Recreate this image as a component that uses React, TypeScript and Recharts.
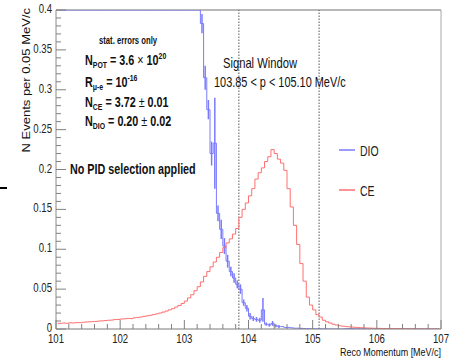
import React from "react";
import { LineChart, Line, XAxis, YAxis, ReferenceLine, ErrorBar, Legend } from "recharts";

// histogram binning (0.05 MeV/c bins from 101 to 107)
const binStart = 101;
const binWidth = 0.05;

// CE histogram, one value per bin
const ceValues = [
  0.0070, 0.0072, 0.0075, 0.0072, 0.0078, 0.0076, 0.0080, 0.0079, 0.0084, 0.0088,
  0.0090, 0.0093, 0.0095, 0.0100, 0.0102, 0.0106, 0.0110, 0.0112, 0.0118, 0.0120,
  0.0125, 0.0128, 0.0133, 0.0130, 0.0140, 0.0145, 0.0150, 0.0158, 0.0165, 0.0172,
  0.0180, 0.0190, 0.0200, 0.0212, 0.0225, 0.0240, 0.0255, 0.0275, 0.0295, 0.0320,
  0.0350, 0.0390, 0.0430, 0.0480, 0.0530, 0.0590, 0.0660, 0.0720, 0.0780, 0.0840,
  0.0900, 0.0960, 0.1020, 0.1080, 0.1130, 0.1190, 0.1260, 0.1400, 0.1500, 0.1580,
  0.1670, 0.1760, 0.1880, 0.1960, 0.2020, 0.2100, 0.2160, 0.2250, 0.2200, 0.2130,
  0.2080, 0.1990, 0.1760, 0.1530, 0.1300, 0.1060, 0.0820, 0.0600, 0.0400, 0.0300,
  0.0240, 0.0180, 0.0150, 0.0110, 0.0090, 0.0075, 0.0060, 0.0050, 0.0040, 0.0035,
  0.0030, 0.0027, 0.0024, 0.0020, 0.0018, 0.0015, 0.0013, 0.0012, 0.0010, 0.0009,
  0.0008, 0.0007, 0.0006, 0.0006, 0.0005, 0.0004, 0.0004, 0.0003, 0.0003, 0.0003,
  0.0002, 0.0002, 0.0002, 0.0001, 0.0001, 0.0001, 0.0001, 0.0001, 0.0001, 0.0001,
];

// DIO histogram (bins below ~103.2 run off the top of the frame)
const dioValues = [
  21.5, 19.8, 18.3, 16.9, 15.5, 14.2, 13.1, 12.0, 11.0, 10.1,
  9.2, 8.4, 7.7, 7.0, 6.4, 5.8, 5.3, 4.8, 4.3, 3.9,
  3.5, 3.2, 2.9, 2.6, 2.3, 2.1, 1.9, 1.7, 1.5, 1.35,
  1.2, 1.07, 0.96, 0.87, 0.79, 0.72, 0.66, 0.61, 0.56, 0.52,
  0.49, 0.46, 0.44, 0.42, 0.41, 0.383, 0.315, 0.275, 0.22, 0.233,
  0.145, 0.125, 0.104, 0.085, 0.072, 0.064, 0.056, 0.05, 0.033, 0.026,
  0.016, 0.013, 0.012, 0.011, 0.024, 0.006, 0.005, 0.007, 0.004, 0.003,
  0.003, 0.002, 0.002, 0.0015, 0.001, 0.001, 0.0008, 0.0005, 0.0005, 0.0003,
  0.0003, 0.0002, 0.0002, 0.0001, 0.0001, 0, 0, 0, 0, 0,
  0.0003, 0.0004, 0.0004, 0.0003, 0.0003, 0.0002, 0.0002, 0.0001, 0.0001, 0.0001,
  0, 0, 0, 0, 0, 0, 0, 0, 0, 0,
  0, 0, 0, 0, 0, 0, 0, 0, 0, 0,
];

const dioErrors = [
  0, 0, 0, 0, 0, 0, 0, 0, 0, 0,
  0, 0, 0, 0, 0, 0, 0, 0, 0, 0,
  0, 0, 0, 0, 0, 0, 0, 0, 0, 0,
  0, 0, 0, 0, 0, 0, 0, 0, 0, 0,
  0, 0, 0, 0, 0, 0.012, 0.015, 0.012, 0.015, 0.057,
  0.01, 0.012, 0.01, 0.008, 0.006, 0.006, 0.005, 0.006, 0.004, 0.004,
  0.004, 0.003, 0.003, 0.003, 0.015, 0.002, 0.002, 0.003, 0.002, 0.002,
  0, 0, 0, 0, 0, 0, 0, 0, 0, 0,
  0, 0, 0, 0, 0, 0, 0, 0, 0, 0,
  0, 0, 0, 0, 0, 0, 0, 0, 0, 0,
  0, 0, 0, 0, 0, 0, 0, 0, 0, 0,
  0, 0, 0, 0, 0, 0, 0, 0, 0, 0,
];

const xMajorTicks = [101, 102, 103, 104, 105, 106, 107];
const yMajorTicks = [0, 0.05, 0.1, 0.15, 0.2, 0.25, 0.3, 0.35, 0.4];
const signalWindow = [103.85, 105.1];
const legendOrder = ["DIO", "CE"];

const yMax = 0.4;
const DIO_COLOR = "#7a7aff";
const CE_COLOR = "#ff6f6f";
const FONT = "'Liberation Sans', Arial, Helvetica, sans-serif";

// root draws overflowing bins along the frame edge
const data = ceValues.map((ce, i) => ({
  p: +(binStart + binWidth * (i + 0.5)).toFixed(3),
  ce,
  dio: Math.min(dioValues[i], yMax),
  dioErr: dioErrors[i],
}));

const withMinor = (majors: number[], div: number) => {
  const out: number[] = [];
  for (let i = 0; i < majors.length - 1; i++) {
    const step = (majors[i + 1] - majors[i]) / div;
    for (let k = 0; k < div; k++) out.push(+(majors[i] + k * step).toFixed(4));
  }
  out.push(majors[majors.length - 1]);
  return out;
};

const xTicks = withMinor(xMajorTicks, 5);
const yTicks = withMinor(yMajorTicks, 5);
const isMajor = (v: number, majors: number[]) => majors.some((m) => Math.abs(m - v) < 1e-6);

const XTick = ({ x, y, payload }: any) => {
  const major = isMajor(payload.value, xMajorTicks);
  return (
    <g>
      <line x1={x} x2={x} y1={y} y2={y - (major ? 9 : 5)} stroke="#808080" />
      {major && (
        <text transform={`translate(${x},${y + 14}) scale(0.8,1)`} textAnchor="middle" fontSize={12} fontFamily={FONT} fill="#222">
          {payload.value}
        </text>
      )}
    </g>
  );
};

const YTick = ({ x, y, payload }: any) => {
  const major = isMajor(payload.value, yMajorTicks);
  return (
    <g>
      <line x1={x} x2={x + (major ? 10 : 5)} y1={y} y2={y} stroke="#808080" />
      {major && (
        <text transform={`translate(${x - 4},${y + 3}) scale(0.8,1)`} textAnchor="end" fontSize={12} fontFamily={FONT} fill="#222">
          {String(+payload.value.toFixed(2))}
        </text>
      )}
    </g>
  );
};

const LegendBox = ({ payload }: any) => {
  const items = [...(payload || [])].sort(
    (a: any, b: any) => legendOrder.indexOf(a.value) - legendOrder.indexOf(b.value)
  );
  return (
    <svg width={70} height={70}>
      {items.map((entry: any, i: number) => (
        <g key={entry.value} transform={`translate(0,${15 + i * 40})`}>
          <line x1={4} x2={20} y1={0} y2={0} stroke={entry.color} strokeWidth={1.5} />
          <text transform="translate(25,6) scale(0.75,1)" fontSize={14} fontFamily={FONT} fill="#222">
            {entry.value}
          </text>
        </g>
      ))}
    </svg>
  );
};

const Annotations = () => (
  <svg width={450} height={361} style={{ position: "absolute", left: 0, top: 0, pointerEvents: "none" }} fontFamily={FONT} fill="#111">
    <line x1={0} x2={7} y1={188} y2={188} stroke="#000" strokeWidth={2} />
    <text transform="translate(30,8) rotate(-90) scale(1,0.8)" textAnchor="end" fontSize={13}>
      N Events per 0.05 MeV/c
    </text>
    <text transform="translate(441,356) scale(0.78,1)" textAnchor="end" fontSize={11.5}>
      Reco Momentum [MeV/c]
    </text>
    <g fontWeight="bold">
      <text transform="translate(99,44) scale(0.77,1)" fontSize={10}>stat. errors only</text>
      <text transform="translate(85,65) scale(0.77,1)" fontSize={14}>
        N<tspan fontSize={9} dy={3}>POT</tspan>
        <tspan dy={-3}> = 3.6 </tspan>
        <tspan fontWeight="normal">×</tspan>
        <tspan> 10</tspan>
        <tspan fontSize={9} dy={-6}>20</tspan>
      </text>
      <text transform="translate(85,87) scale(0.77,1)" fontSize={14}>
        R<tspan fontSize={9} dy={3}>μ-e</tspan>
        <tspan dy={-3}> = 10</tspan>
        <tspan fontSize={9} dy={-6}>-16</tspan>
      </text>
      <text transform="translate(85,107) scale(0.77,1)" fontSize={14}>
        N<tspan fontSize={9} dy={3}>CE</tspan>
        <tspan dy={-3}> = 3.72 </tspan>
        <tspan fontWeight="normal">±</tspan>
        <tspan> 0.01</tspan>
      </text>
      <text transform="translate(85,126) scale(0.77,1)" fontSize={14}>
        N<tspan fontSize={9} dy={3}>DIO</tspan>
        <tspan dy={-3}> = 0.20 </tspan>
        <tspan fontWeight="normal">±</tspan>
        <tspan> 0.02</tspan>
      </text>
      <text transform="translate(70,174) scale(0.77,1)" fontSize={14}>No PID selection applied</text>
    </g>
    <text transform="translate(223,68) scale(0.8,1)" fontSize={14}>Signal Window</text>
    <text transform="translate(214,87) scale(0.78,1)" fontSize={14}>103.85 &lt; p &lt; 105.10 MeV/c</text>
  </svg>
);

export default function App() {
  return (
    <div style={{ position: "absolute", left: 0, top: 0, width: 450, height: 361, background: "#fff" }}>
      <LineChart width={450} height={361} data={data} margin={{ top: 10, right: 9, bottom: 0, left: 0 }}>
        <XAxis
          dataKey="p"
          type="number"
          domain={[101, 107]}
          ticks={xTicks}
          interval={0}
          tick={(props: any) => <XTick {...props} />}
          tickLine={false}
          tickSize={0}
          tickMargin={0}
          height={32}
          axisLine={{ stroke: "#7a7a7a" }}
          allowDataOverflow
        />
        <YAxis
          type="number"
          domain={[0, yMax]}
          ticks={yTicks}
          interval={0}
          tick={(props: any) => <YTick {...props} />}
          tickLine={false}
          tickSize={0}
          tickMargin={0}
          width={56}
          axisLine={{ stroke: "#8a8a8a" }}
          allowDataOverflow
        />
        <ReferenceLine y={yMax} stroke="#b8b8b8" strokeWidth={2} />
        <ReferenceLine x={107} stroke="#a8a8a8" />
        {signalWindow.map((w) => (
          <ReferenceLine key={w} x={w} stroke="#555" strokeDasharray="1.5 1.5" />
        ))}
        <Line dataKey="dio" name="DIO" type="step" stroke={DIO_COLOR} strokeWidth={1} dot={false} activeDot={false} isAnimationActive={false}>
          <ErrorBar dataKey="dioErr" width={0} stroke={DIO_COLOR} direction="y" isAnimationActive={false} />
        </Line>
        <Line dataKey="ce" name="CE" type="step" stroke={CE_COLOR} strokeWidth={1} dot={false} activeDot={false} isAnimationActive={false} />
        <Legend
          layout="vertical"
          align="center"
          verticalAlign="middle"
          itemSorter={null as any}
          content={(props: any) => <LegendBox {...props} />}
          wrapperStyle={{ left: 335, top: 135, width: 70, height: 70 }}
        />
      </LineChart>
      <Annotations />
    </div>
  );
}
